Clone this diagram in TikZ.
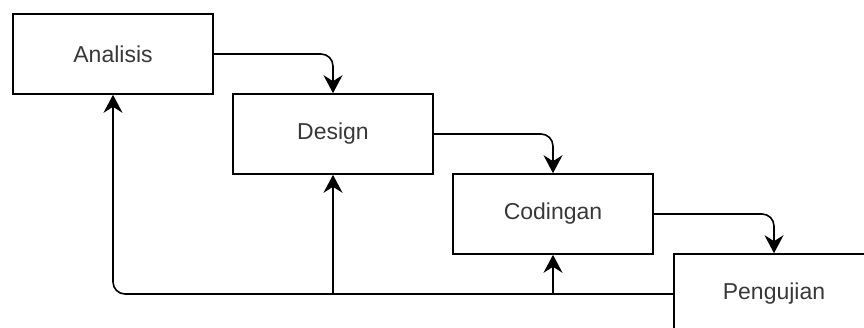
\documentclass[tikz,border=0pt]{standalone}
\usepackage{fontspec}
\setmainfont{Liberation Sans}
\usetikzlibrary{arrows.meta, positioning}

\tikzset{
  stage/.style={draw, line width=1.6pt, minimum width=200pt, minimum height=80pt,
    inner sep=0pt, text=black!78, font=\fontsize{23}{28}\selectfont},
  flow/.style={line width=1.6pt, rounded corners=12pt,
    -{Stealth[length=18pt, width=19pt, inset=6pt]}},
}

\begin{document}
\begin{tikzpicture}[x=1pt, y=-1pt]
  \useasboundingbox (0,0) rectangle (864,328);
  \clip (0,0) rectangle (864,328);
  % stages of the cycle
  \node[stage] (ana) at (113,54)  {Analisis};
  \node[stage] (des) at (333,134) {Design};
  \node[stage] (cod) at (553,214) {Codingan};
  \node[stage] (pen) at (774,294) {Pengujian};
  % forward steps
  \draw[flow] (ana.east) -| (des.north);
  \draw[flow] (des.east) -| (cod.north);
  \draw[flow] (cod.east) -| (pen.north);
  % feedback line back to every earlier stage
  \draw[flow] (pen.west) -| (ana.south);
  \draw[flow, rounded corners=0pt] (des.south |- pen.west) -- (des.south);
  \draw[flow, rounded corners=0pt] (cod.south |- pen.west) -- (cod.south);
\end{tikzpicture}
\end{document}
